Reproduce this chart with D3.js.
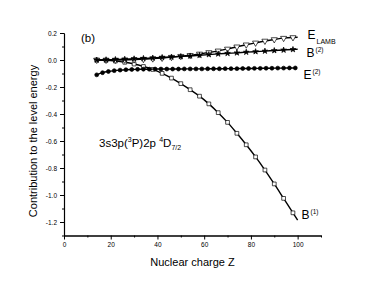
<!DOCTYPE html>
<html>
<head>
<meta charset="utf-8">
<script src="https://cdn.jsdelivr.net/npm/d3@7"></script>
<style>
  body { margin: 0; background: #fff; }
  svg text { font-family: "Liberation Sans", Arial, sans-serif; fill: #000; }
</style>
</head>
<body>
<svg id="chart" width="374" height="286"></svg>
<script>
// Z grid for the open-symbol series (last point is the line end, no marker)
var zStep4 = [14, 18, 22, 26, 30, 34, 38, 42, 46, 50, 54, 58, 62, 66, 70, 74, 78, 82, 86, 90, 94, 98, 100];
var bOne = [0.0, -0.002, -0.008, -0.017, -0.030, -0.048, -0.070, -0.099, -0.134, -0.175, -0.220, -0.268,
    -0.325, -0.390, -0.462, -0.543, -0.628, -0.718, -0.815, -0.918, -1.025, -1.132, -1.186];
var eLamb = [0.0, 0.0, 0.0, 0.001, 0.003, 0.006, 0.010, 0.015, 0.021, 0.028, 0.035, 0.045,
    0.056, 0.068, 0.082, 0.098, 0.113, 0.127, 0.141, 0.152, 0.162, 0.167, 0.168];
var bTwo = [0.0, 0.002, 0.004, 0.006, 0.009, 0.012, 0.015, 0.019, 0.022, 0.026, 0.030, 0.035,
    0.040, 0.045, 0.049, 0.053, 0.058, 0.062, 0.066, 0.070, 0.074, 0.078, 0.080];

// E(2) is sampled more densely
var zE2 = [14, 16.5, 19, 21.5, 24, 26.5, 29, 31.5, 34, 36.5, 39, 41.5, 44, 46.5, 49, 51.5, 54, 56.5,
    59, 61.5, 64, 66.5, 69, 71.5, 74, 76.5, 79, 81.5, 84, 86.5, 89, 91.5, 94, 96.5, 99];
var eTwo = [-0.110, -0.094, -0.085, -0.079, -0.075, -0.072, -0.070, -0.069, -0.068, -0.068, -0.067,
    -0.067, -0.067, -0.067, -0.067, -0.066, -0.066, -0.066, -0.066, -0.065, -0.065, -0.065, -0.064,
    -0.064, -0.064, -0.063, -0.063, -0.062, -0.062, -0.061, -0.061, -0.060, -0.060, -0.059, -0.059];

var xTicks = [0, 20, 40, 60, 80, 100];
var yTicks = [0.2, 0.0, -0.2, -0.4, -0.6, -0.8, -1.0, -1.2];

var svg = d3.select('#chart');

var x = d3.scaleLinear().domain([0, 110]).range([64, 321]),
    y = d3.scaleLinear().domain([-1.3, 0.2]).range([235.5, 33]);

function fmt(d) {
    return (Math.abs(d) < 1e-9 ? 0 : d).toFixed(1);
}

// minor ticks first, then major ticks with labels
svg.append('g')
    .attr('transform', 'translate(0,' + y(-1.3) + ')')
    .call(d3.axisBottom(x).tickValues(d3.range(10, 111, 20)).tickSize(2).tickSizeOuter(0).tickFormat(''));
svg.append('g')
    .attr('transform', 'translate(' + x(0) + ',0)')
    .call(d3.axisLeft(y).tickValues(d3.range(-13, 2, 2).map(function(v) { return v / 10; }))
        .tickSize(2).tickSizeOuter(0).tickFormat(''));

var xAxis = svg.append('g')
    .attr('transform', 'translate(0,' + y(-1.3) + ')')
    .call(d3.axisBottom(x).tickValues(xTicks).tickSize(4).tickSizeOuter(0).tickPadding(3));
var yAxis = svg.append('g')
    .attr('transform', 'translate(' + x(0) + ',0)')
    .call(d3.axisLeft(y).tickValues(yTicks).tickSize(4).tickSizeOuter(0).tickPadding(3).tickFormat(fmt));

svg.selectAll('.domain').attr('stroke', '#000').attr('stroke-width', 1.1);
svg.selectAll('.tick line').attr('stroke', '#000').attr('stroke-width', 1);
xAxis.selectAll('text').attr('font-size', 6.5).attr('font-family', '"Liberation Sans", Arial, sans-serif');
yAxis.selectAll('text').attr('font-size', 6.5).attr('font-family', '"Liberation Sans", Arial, sans-serif');

// axis titles
svg.append('text')
    .attr('x', (x(0) + x(110)) / 2).attr('y', 266)
    .attr('text-anchor', 'middle').attr('font-size', 11)
    .text('Nuclear charge Z');
svg.append('text')
    .attr('transform', 'translate(36.5,141) rotate(-90)')
    .attr('text-anchor', 'middle').attr('font-size', 11)
    .text('Contribution to the level energy');

// curves
var line = d3.line()
    .x(function(d) { return x(d[0]); })
    .y(function(d) { return y(d[1]); })
    .curve(d3.curveCatmullRom);

function pairs(zs, vs) {
    return zs.map(function(z, i) { return [z, vs[i]]; });
}

var series = [
    {name: 'B1', data: pairs(zStep4, bOne), sym: d3.symbolSquare, size: 14, fill: '#fff', last: false},
    {name: 'ELAMB', data: pairs(zStep4, eLamb), sym: d3.symbolTriangle, size: 16, fill: '#fff', flip: true, last: false},
    {name: 'B2', data: pairs(zStep4, bTwo), sym: d3.symbolStar, size: 10, fill: '#000', last: false},
    {name: 'E2', data: pairs(zE2, eTwo), sym: d3.symbolCircle, size: 12, fill: '#000', last: true}
];

series.forEach(function(s) {
    svg.append('path')
        .datum(s.data)
        .attr('fill', 'none')
        .attr('stroke', '#000')
        .attr('stroke-width', 1.4)
        .attr('d', line);

    // markers; the open-symbol series end on a bare line point at Z=100
    var pts = s.last ? s.data : s.data.slice(0, -1);
    svg.append('g').selectAll('path')
        .data(pts)
        .join('path')
        .attr('transform', function(d) {
            return 'translate(' + x(d[0]) + ',' + y(d[1]) + ')' + (s.flip ? ' rotate(180)' : '');
        })
        .attr('d', d3.symbol().type(s.sym).size(s.size))
        .attr('fill', s.fill)
        .attr('stroke', '#000')
        .attr('stroke-width', 0.7);
});

// labels on the curves
function label(xp, yp, main, extra, isSub) {
    var t = svg.append('text').attr('x', xp).attr('y', yp).attr('font-size', 12);
    t.append('tspan').text(main);
    t.append('tspan')
        .attr('font-size', isSub ? 7 : 6.5)
        .attr('dx', 1)
        .attr('dy', isSub ? 5 : -5)
        .text(extra);
}

label(307.5, 38.5, 'E', 'LAMB', true);
label(306.5, 57, 'B', '(2)', false);
label(303.5, 78.5, 'E', '(2)', false);
label(301.5, 218.5, 'B', '(1)', false);

svg.append('text').attr('x', 81).attr('y', 42).attr('font-size', 11.5).text('(b)');

// level designation
var ann = svg.append('text').attr('x', 99).attr('y', 147).attr('font-size', 11.5);
ann.append('tspan').text('3s3p(');
ann.append('tspan').attr('font-size', 7).attr('dy', -5).text('3');
ann.append('tspan').attr('dy', 5).text('P)2p ');
ann.append('tspan').attr('font-size', 7).attr('dy', -5).text('4');
ann.append('tspan').attr('dy', 5).text('D');
ann.append('tspan').attr('font-size', 7).attr('dy', 3).text('7/2');
</script>
</body>
</html>
